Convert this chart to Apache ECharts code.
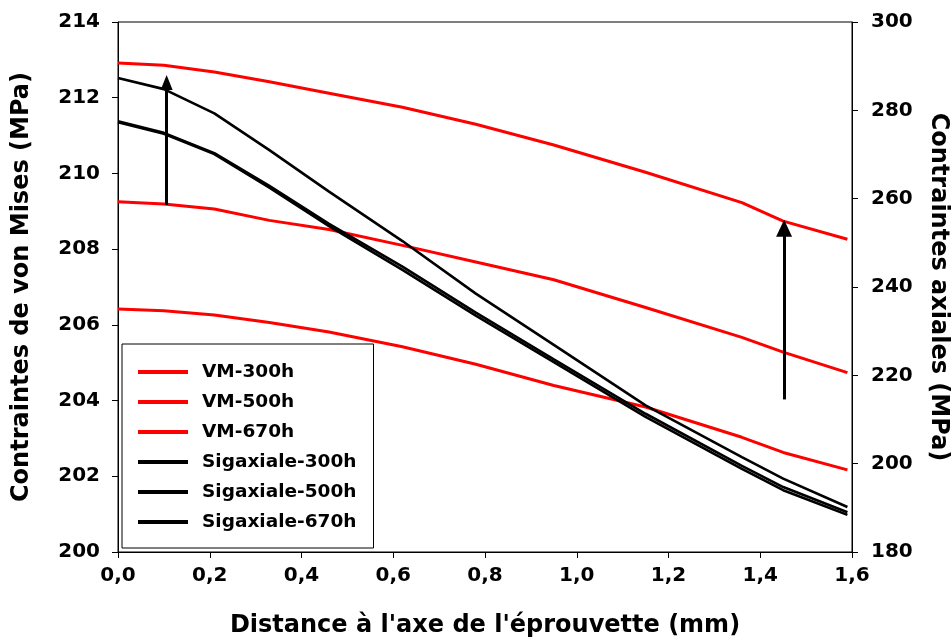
<!DOCTYPE html>
<html>
<head>
<meta charset="utf-8">
<script src="https://cdn.jsdelivr.net/npm/echarts@6/dist/echarts.min.js"></script>
<style>
html,body{margin:0;padding:0;background:#fff;}
#c{width:952px;height:644px;}
</style>
</head>
<body>
<div id="c"></div>
<script>
// Distance from specimen axis (mm) — sampled positions
const distance = [0, 0.10, 0.21, 0.33, 0.46, 0.62, 0.78, 0.95, 1.15, 1.36, 1.45, 1.59];

// von Mises stress (MPa), left axis
const vm300 = [206.42, 206.37, 206.26, 206.06, 205.81, 205.42, 204.96, 204.40, 203.83, 203.03, 202.63, 202.17];
const vm500 = [209.25, 209.19, 209.06, 208.76, 208.52, 208.10, 207.66, 207.19, 206.46, 205.67, 205.28, 204.74];
const vm670 = [212.92, 212.86, 212.68, 212.42, 212.12, 211.75, 211.30, 210.75, 210.03, 209.23, 208.74, 208.26];

// Axial stress (MPa), right axis
const sig300 = [277.3, 274.7, 270.1, 262.5, 253.8, 243.9, 233.5, 223.0, 210.6, 198.8, 194.0, 188.4];
const sig500 = [277.5, 274.9, 270.3, 262.9, 254.3, 244.6, 234.2, 223.6, 211.3, 199.5, 194.7, 189.0];
const sig670 = [287.3, 284.8, 279.3, 271.0, 261.6, 250.4, 238.5, 226.9, 213.2, 201.5, 196.6, 190.2];

const seriesNames = ['VM-300h', 'VM-500h', 'VM-670h', 'Sigaxiale-300h', 'Sigaxiale-500h', 'Sigaxiale-670h'];

// Axis ranges
const xRange = [0, 1.6, 0.2];
const yLeftRange = [200, 214, 2];
const yRightRange = [180, 300, 20];

// Arrow annotations (left-axis data coordinates)
const arrowLeft = [[0.106, 209.17], [0.106, 212.40]];
const arrowRight = [[1.452, 204.03], [1.452, 208.55]];

const FONT = 'DejaVu Sans';
const pairs = ys => distance.map((x, i) => [x, ys[i]]);

const chart = echarts.init(document.getElementById('c'), null, {renderer: 'canvas'});

const axisCommon = {
  axisLine: {show: true, onZero: false, lineStyle: {color: '#000', width: 1}},
  axisTick: {show: true, inside: false, length: 6, lineStyle: {color: '#000', width: 1}},
  splitLine: {show: false},
  nameLocation: 'middle',
  nameTextStyle: {color: '#000', fontFamily: FONT, fontWeight: 'bold', fontSize: 24}
};
const labelCommon = {color: '#000', fontFamily: FONT, fontWeight: 'bold', fontSize: 20};

function lineSeries(name, ys, axisIdx, color, width, extra) {
  return Object.assign({
    name: name,
    type: 'line',
    yAxisIndex: axisIdx,
    data: pairs(ys),
    symbol: 'none',
    showSymbol: false,
    smooth: false,
    lineStyle: {color: color, width: width},
    itemStyle: {color: color}
  }, extra || {});
}

function arrowMark(coords, size) {
  return {
    silent: true,
    symbol: ['none', 'triangle'],
    symbolSize: size,
    label: {show: false},
    lineStyle: {color: '#000', width: 3, type: 'solid'},
    itemStyle: {color: '#000'},
    emphasis: {disabled: true},
    animation: false,
    data: [[{coord: coords[0]}, {coord: coords[1]}]]
  };
}

const option = {
  animation: false,
  backgroundColor: '#fff',
  grid: {left: 118, right: 100, top: 22, bottom: 92, show: true, borderColor: '#000', borderWidth: 1,
         backgroundColor: 'transparent', containLabel: false, outerBoundsMode: 'none'},
  legend: {
    orient: 'vertical',
    left: 122,
    top: 344,
    padding: [18, 17, 16, 16],
    itemGap: 10,
    itemWidth: 50,
    itemHeight: 4,
    icon: 'rect',
    backgroundColor: '#fff',
    borderColor: '#000',
    borderWidth: 1,
    borderRadius: 0,
    selectedMode: false,
    data: seriesNames,
    textStyle: {color: '#000', fontFamily: FONT, fontWeight: 'bold', fontSize: 18.5, lineHeight: 20, padding: [0, 0, 0, 9]}
  },
  xAxis: Object.assign({}, axisCommon, {
    type: 'value',
    min: xRange[0], max: xRange[1], interval: xRange[2],
    name: "Distance à l'axe de l'éprouvette (mm)",
    nameGap: 62,
    axisLabel: Object.assign({}, labelCommon, {margin: 14, formatter: v => v.toFixed(1).replace('.', ',')})
  }),
  yAxis: [
    Object.assign({}, axisCommon, {
      type: 'value', position: 'left',
      min: yLeftRange[0], max: yLeftRange[1], interval: yLeftRange[2],
      name: 'Contraintes de von Mises (MPa)',
      nameRotate: 90,
      nameGap: 84,
      axisLabel: Object.assign({}, labelCommon, {margin: 18})
    }),
    Object.assign({}, axisCommon, {
      type: 'value', position: 'right',
      min: yRightRange[0], max: yRightRange[1], interval: yRightRange[2],
      name: 'Contraintes axiales (MPa)',
      nameRotate: -90,
      nameGap: 74,
      axisLabel: Object.assign({}, labelCommon, {margin: 19})
    })
  ],
  series: [
    lineSeries(seriesNames[0], vm300, 0, '#ff0000', 3),
    lineSeries(seriesNames[1], vm500, 0, '#ff0000', 3, {markLine: arrowMark(arrowLeft, [12, 15])}),
    lineSeries(seriesNames[2], vm670, 0, '#ff0000', 3, {markLine: arrowMark(arrowRight, [16, 17])}),
    lineSeries(seriesNames[3], sig300, 1, '#000000', 2.6),
    lineSeries(seriesNames[4], sig500, 1, '#000000', 2.6),
    lineSeries(seriesNames[5], sig670, 1, '#000000', 2.6)
  ]
};

chart.setOption(option);
</script>
</body>
</html>
